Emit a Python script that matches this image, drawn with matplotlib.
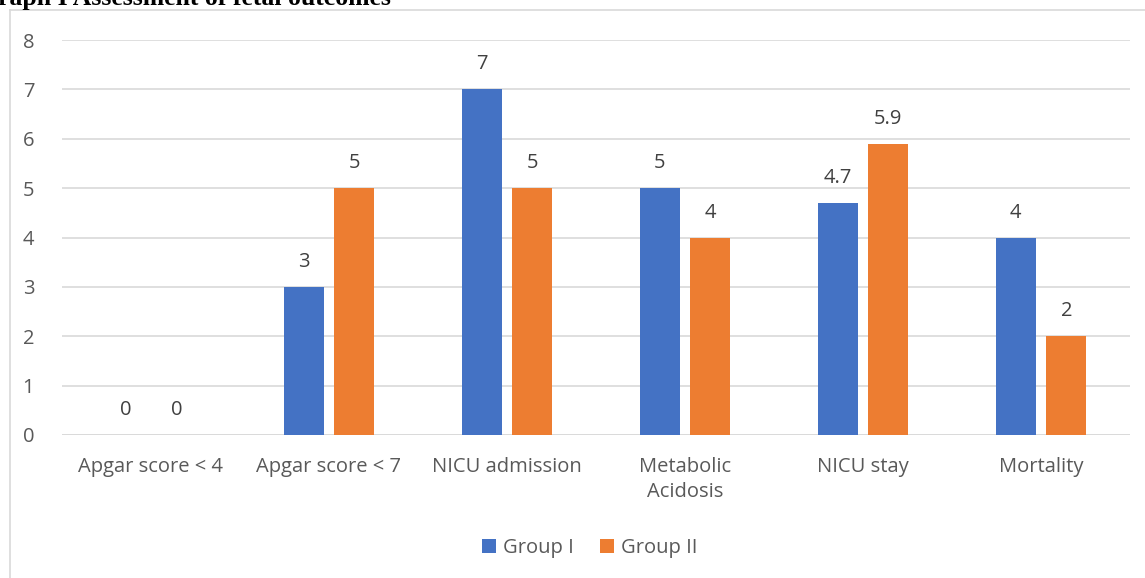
import matplotlib.pyplot as plt
import numpy as np
from matplotlib.lines import Line2D

# Data
categories = ['Apgar score < 4', 'Apgar score < 7', 'NICU admission',
              'Metabolic\nAcidosis', 'NICU stay', 'Mortality']
group1 = [0, 3, 7, 5, 4.7, 4]
group2 = [0, 5, 5, 4, 5.9, 2]
series_names = ['Group I', 'Group II']
yticks = [0, 1, 2, 3, 4, 5, 6, 7, 8]

blue = '#4472c4'
orange = '#ed7d31'
text_col = '#595959'
grid_col = '#d9d9d9'

plt.rcParams['font.family'] = ['Open Sans', 'DejaVu Sans']

W, H = 1145, 578
fig = plt.figure(figsize=(W / 100, H / 100), dpi=100)
ax = fig.add_axes([62 / W, 1 - 435 / H, (1130 - 62) / W, (435 - 40) / H])

x = np.arange(len(categories))
bw = 0.225
off = 0.142
b1 = ax.bar(x - off, group1, bw, color=blue, label=series_names[0], zorder=3)
b2 = ax.bar(x + off, group2, bw, color=orange, label=series_names[1], zorder=3)

for bars, vals in ((b1, group1), (b2, group2)):
    for rect, v in zip(bars, vals):
        lbl = ('%g' % v)
        ax.annotate(lbl, (rect.get_x() + rect.get_width() / 2, v),
                    xytext=(0, 15), textcoords='offset pixels',
                    ha='center', va='bottom', fontsize=14.5, color='#404040')

ax.set_xlim(-0.5, len(categories) - 0.5)
ax.set_ylim(0, 8)
ax.set_yticks(yticks)
ax.set_xticks(x)
ax.set_xticklabels(categories, linespacing=1.3)
ax.grid(axis='y', color=grid_col, lw=1.2, zorder=0)
for s in ax.spines.values():
    s.set_visible(False)
ax.tick_params(axis='both', length=0, labelsize=14.5, labelcolor=text_col)
ax.tick_params(axis='y', pad=20)
ax.tick_params(axis='x', pad=16)
ax.axhline(0, color=grid_col, lw=1.2, zorder=1)

ax.legend(loc='center', bbox_to_anchor=(590 / W, 1 - 548 / H),
          bbox_transform=fig.transFigure, ncol=2, frameon=False,
          fontsize=14.5, labelcolor=text_col, handlelength=0.7, handleheight=0.7,
          handletextpad=0.35, columnspacing=1.3)

# chart border (partially visible)
fig.add_artist(Line2D([10 / W, 10 / W], [0, 1 - 10 / H], color=grid_col, lw=1.2,
                      transform=fig.transFigure))
fig.add_artist(Line2D([10 / W, 1], [1 - 10 / H, 1 - 10 / H], color=grid_col, lw=1.2,
                      transform=fig.transFigure))

# cut-off caption at top
fig.text(-2 / W, 1 - 5 / H, 'raph I Assessment of fetal outcomes',
         ha='left', va='baseline', fontsize=18.5, fontweight='bold',
         family='Liberation Serif', color='black')

fig.savefig('out.png', dpi=100)
